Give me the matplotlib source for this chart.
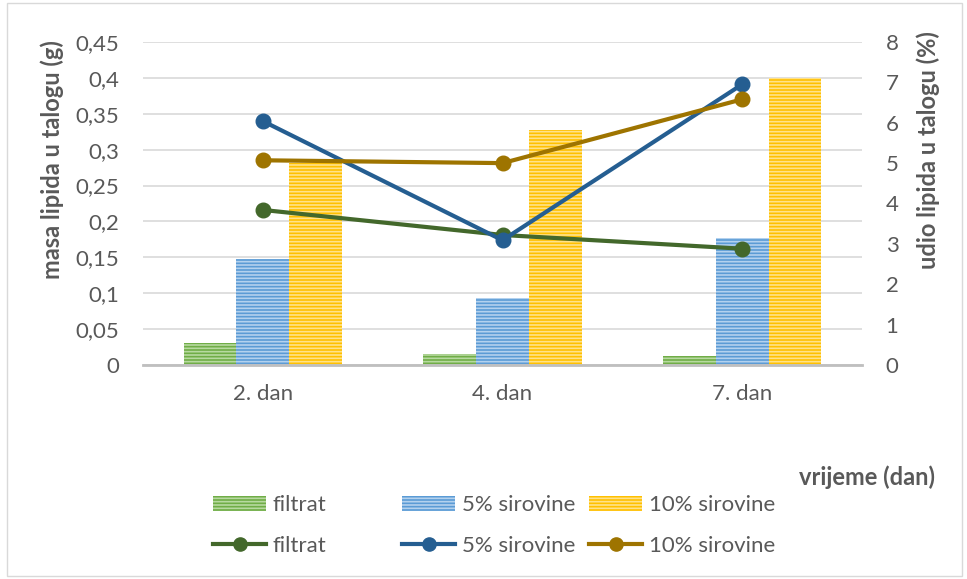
import matplotlib.pyplot as plt
import numpy as np
from matplotlib.ticker import FuncFormatter, MultipleLocator
from matplotlib.lines import Line2D
from matplotlib.patches import Patch, Rectangle

plt.rcParams['font.family'] = ['Lato', 'DejaVu Sans']
plt.rcParams['hatch.linewidth'] = 1.2

days = ['2. dan', '4. dan', '7. dan']
series = ['filtrat', '5% sirovine', '10% sirovine']

# masa lipida u talogu (g) - bars, left axis
mass_filtrat = [0.030, 0.015, 0.012]
mass_5 = [0.147, 0.094, 0.177]
mass_10 = [0.282, 0.327, 0.400]

# udio lipida u talogu (%) - lines, right axis
share_filtrat = [3.84, 3.22, 2.88]
share_5 = [6.04, 3.09, 6.95]
share_10 = [5.07, 5.00, 6.58]

bar_colors = ['#70AD47', '#5B9BD5', '#FFC000']
hatch_colors = ['#B7D9A0', '#B3D1EE', '#FFE28A']
line_colors = ['#43682B', '#255E91', '#9E7400']
txt = '#595959'

fig = plt.figure(figsize=(9.67, 5.79), dpi=100)
fig.add_artist(Rectangle((0.007, 0.005), 0.988, 0.99, transform=fig.transFigure,
                         fill=False, edgecolor='#D9D9D9', linewidth=1))
ax = fig.add_axes([0.1479, 0.3696, 0.7435, 0.5579])
ax2 = ax.twinx()

x = np.arange(len(days))
w = 0.22
masses = [mass_filtrat, mass_5, mass_10]
for i in range(3):
    ax.bar(x + (i - 1) * w, masses[i], w, color=bar_colors[i],
           edgecolor=hatch_colors[i], linewidth=0, hatch='-----', zorder=2)

shares = [share_filtrat, share_5, share_10]
for i in range(3):
    ax2.plot(x, shares[i], color=line_colors[i], linewidth=3,
             marker='o', markersize=10.5, zorder=3)

ax.set_xlim(-0.5, 2.5)
ax.set_ylim(0, 0.45)
ax2.set_ylim(0, 8)
ax.yaxis.set_major_locator(MultipleLocator(0.05))
ax2.yaxis.set_major_locator(MultipleLocator(1))


def comma(v, pos):
    s = ('%.2f' % v).rstrip('0').rstrip('.')
    return s.replace('.', ',')


ax.yaxis.set_major_formatter(FuncFormatter(comma))
ax.set_xticks(x)
ax.set_xticklabels(days)
ax.grid(axis='y', color='#D9D9D9', linewidth=1.2, zorder=0)
ax.set_axisbelow(True)
for a in (ax, ax2):
    for s in a.spines.values():
        s.set_visible(False)
    a.tick_params(length=0, labelsize=16, colors=txt)
ax.spines['bottom'].set_visible(True)
ax.spines['bottom'].set_color('#BFBFBF')
ax.spines['bottom'].set_linewidth(2)
ax.tick_params(axis='y', pad=17)
ax.tick_params(axis='x', pad=14)
ax2.tick_params(axis='y', pad=17)

ax.set_ylabel('masa lipida u talogu (g)', fontsize=17, fontweight='bold',
              color=txt)
ax.yaxis.set_label_coords(-0.110, 0.635)
ax2.set_ylabel('udio lipida u talogu (%)', fontsize=17, fontweight='bold',
               color=txt)
ax2.yaxis.set_label_coords(1.076, 0.666)
fig.text(0.967, 0.176, 'vrijeme (dan)', fontsize=17, fontweight='bold',
         color=txt, ha='right', va='center')

col_x = [213, 402, 589]
for i in range(3):
    h = [Patch(facecolor=bar_colors[i], edgecolor=hatch_colors[i],
               linewidth=0, hatch='-----'),
         Line2D([], [], color=line_colors[i], linewidth=3,
                marker='o', markersize=9.5)]
    fig.legend(h, [series[i], series[i]], loc='center left',
               bbox_to_anchor=(col_x[i] / 967, 0.0924), frameon=False,
               fontsize=16, labelcolor=txt, handlelength=2.4,
               handleheight=0.68, handletextpad=0.28, labelspacing=0.95,
               borderpad=0, borderaxespad=0)

fig.savefig('out.png', dpi=100)
